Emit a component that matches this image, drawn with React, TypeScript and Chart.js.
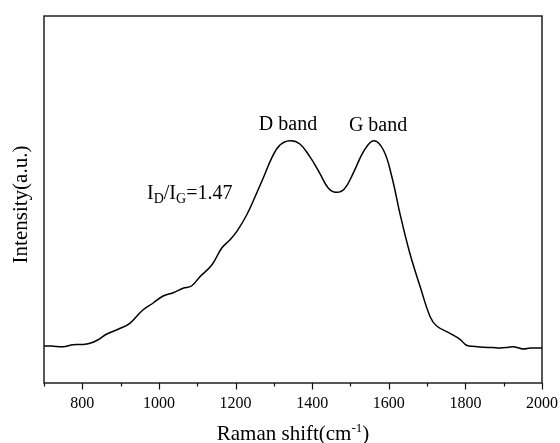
import React, { useEffect, useRef } from "react";
import { Chart, registerables } from "chart.js";

Chart.register(...registerables);

// Raman spectrum (x: Raman shift in cm-1, y: intensity in arbitrary units)
const ramanShift = [
  700, 720, 750, 776, 800, 820, 840, 864, 895, 924, 958, 985, 1011, 1037, 1063, 1085,
  1107, 1138, 1164, 1185, 1203, 1229, 1251, 1272, 1294, 1316, 1342, 1368, 1394, 1420,
  1442, 1462, 1484, 1507, 1534, 1560, 1586, 1608, 1629, 1655, 1682, 1708, 1725, 1760,
  1786, 1803, 1825, 1847, 1870, 1890, 1910, 1925, 1940, 1951, 1970, 1995, 2000,
];
const intensity = [
  37, 37, 36.3, 38.3, 38.5, 39.7, 43, 49, 54, 59.7, 73, 80, 87, 90.3, 94.7, 97,
  106.3, 118, 135, 143, 151.3, 168, 186.3, 204.7, 224.7, 238, 242.3, 239, 226.3, 209.7,
  195, 190.7, 194, 209.7, 231.3, 242.3, 233, 206.3, 169.7, 129.7, 96.3, 66.3, 57, 49.7,
  43.7, 37.7, 36.5, 35.7, 35.5, 35, 35.5, 36.3, 35, 34, 35, 35, 34.8,
];

const xMin = 700;
const xMax = 2000;
const yMin = 0;
const yMax = 367;
const xTickValues = [700, 800, 900, 1000, 1100, 1200, 1300, 1400, 1500, 1600, 1700, 1800, 1900, 2000];
const xTickLabels = ["800", "1000", "1200", "1400", "1600", "1800", "2000"];

const xTitle = "Raman shift(cm";
const xTitleSup = "-1";
const xTitleEnd = ")";
const yTitle = "Intensity(a.u.)";

// Peak labels, anchored in data coordinates
const bandLabels = ["D band", "G band"];
const bandLabelX = [1337, 1572];
const bandLabelY = [253, 252];
// Ratio annotation I_D/I_G=1.47 (left anchored)
const ratioX = 969;
const ratioY = 184;
const ratioValue = "1.47";

const SERIF = '"Liberation Serif", "Times New Roman", serif';

const decorPlugin = {
  id: "decor",
  afterDraw(chart: any) {
    const ctx = chart.ctx as CanvasRenderingContext2D;
    const area = chart.chartArea;
    const xs = chart.scales.x;
    const ys = chart.scales.y;
    ctx.save();
    ctx.fillStyle = "#000";
    ctx.strokeStyle = "#111";

    // frame
    ctx.lineWidth = 1.4;
    ctx.strokeRect(area.left, area.top, area.right - area.left, area.bottom - area.top);

    // x ticks
    ctx.lineWidth = 1.2;
    xTickValues.forEach((v) => {
      const px = Math.round(xs.getPixelForValue(v)) + 0.5;
      const len = v % 200 === 0 ? 6.5 : 3.5;
      ctx.beginPath();
      ctx.moveTo(px, area.bottom);
      ctx.lineTo(px, area.bottom + len);
      ctx.stroke();
    });

    // tick labels
    ctx.font = `16px ${SERIF}`;
    ctx.textAlign = "center";
    ctx.textBaseline = "alphabetic";
    xTickLabels.forEach((t) => {
      const px = xs.getPixelForValue(Number(t));
      ctx.fillText(t, px, area.bottom + 25);
    });

    // x title with superscript
    const mainFont = `21px ${SERIF}`;
    const supFont = `13px ${SERIF}`;
    ctx.font = mainFont;
    const w1 = ctx.measureText(xTitle).width;
    const w3 = ctx.measureText(xTitleEnd).width;
    ctx.font = supFont;
    const w2 = ctx.measureText(xTitleSup).width;
    const total = w1 + w2 + w3;
    const cx = (area.left + area.right) / 2;
    let sx = cx - total / 2;
    const by = area.bottom + 57;
    ctx.textAlign = "left";
    ctx.font = mainFont;
    ctx.fillText(xTitle, sx, by);
    sx += w1;
    ctx.font = supFont;
    ctx.fillText(xTitleSup, sx, by - 8);
    sx += w2;
    ctx.font = mainFont;
    ctx.fillText(xTitleEnd, sx, by);

    // y title
    ctx.save();
    ctx.translate(27, (area.top + area.bottom) / 2 + 5);
    ctx.rotate(-Math.PI / 2);
    ctx.textAlign = "center";
    ctx.font = mainFont;
    ctx.fillText(yTitle, 0, 0);
    ctx.restore();

    // band labels
    ctx.font = `20px ${SERIF}`;
    ctx.textAlign = "center";
    bandLabels.forEach((t, i) => {
      ctx.fillText(t, xs.getPixelForValue(bandLabelX[i]), ys.getPixelForValue(bandLabelY[i]));
    });

    // ratio annotation
    const big = `20px ${SERIF}`;
    const small = `14px ${SERIF}`;
    let rx = xs.getPixelForValue(ratioX);
    const ry = ys.getPixelForValue(ratioY);
    const parts: [string, string, number][] = [
      ["I", big, 0],
      ["D", small, 4],
      ["/I", big, 0],
      ["G", small, 4],
      ["=" + ratioValue, big, 0],
    ];
    ctx.textAlign = "left";
    parts.forEach(([t, f, dy]) => {
      ctx.font = f;
      ctx.fillText(t, rx, ry + dy);
      rx += ctx.measureText(t).width;
    });

    ctx.restore();
  },
};

export default function App() {
  const canvasRef = useRef<HTMLCanvasElement | null>(null);

  useEffect(() => {
    const canvas = canvasRef.current;
    if (!canvas) return;
    const data = ramanShift.map((x, i) => ({ x, y: intensity[i] }));
    const chart = new Chart(canvas, {
      type: "line",
      data: {
        datasets: [
          {
            data,
            borderColor: "#000",
            borderWidth: 1.5,
            pointRadius: 0,
            fill: false,
            tension: 0.4,
          },
        ],
      },
      options: {
        responsive: false,
        animation: false,
        devicePixelRatio: 1,
        layout: { padding: { left: 44, top: 16, right: 18, bottom: 60 } },
        plugins: {
          legend: { display: false },
          tooltip: { enabled: false },
          title: { display: false },
        },
        scales: {
          x: { type: "linear", min: xMin, max: xMax, display: false },
          y: { type: "linear", min: yMin, max: yMax, display: false },
        },
      },
      plugins: [decorPlugin],
    } as any);
    return () => chart.destroy();
  }, []);

  return (
    <div style={{ position: "absolute", left: 0, top: 0, width: 560, height: 443, background: "#fff" }}>
      <canvas ref={canvasRef} width={560} height={443} />
    </div>
  );
}
